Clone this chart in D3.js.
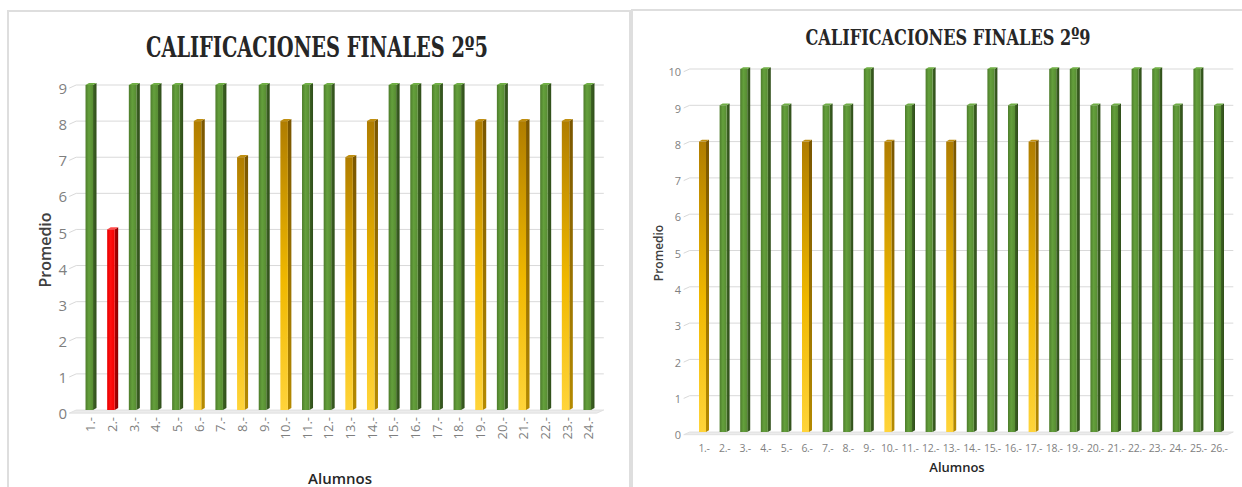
<!DOCTYPE html>
<html>
<head>
<meta charset="utf-8">
<script src="https://cdn.jsdelivr.net/npm/d3@7"></script>
<style>
  html, body { margin: 0; padding: 0; background: #ffffff; }
  svg { display: block; }
</style>
</head>
<body>
<svg id="chart" width="1242" height="487"></svg>
<script>
// ---------- DATA ----------
const title25 = "CALIFICACIONES FINALES 2º5";
const alumnos25 = ["1.-","2.-","3.-","4.-","5.-","6.-","7.-","8.-","9.-","10.-","11.-","12.-",
  "13.-","14.-","15.-","16.-","17.-","18.-","19.-","20.-","21.-","22.-","23.-","24.-"];
const notas25 = [9,5,9,9,9,8,9,7,9,8,9,9,7,8,9,9,9,9,8,9,8,9,8,9];
const ticks25 = [0,1,2,3,4,5,6,7,8,9];

const title29 = "CALIFICACIONES FINALES 2º9";
const alumnos29 = ["1.-","2.-","3.-","4.-","5.-","6.-","7.-","8.-","9.-","10.-","11.-","12.-","13.-",
  "14.-","15.-","16.-","17.-","18.-","19.-","20.-","21.-","22.-","23.-","24.-","25.-","26.-"];
const notas29 = [8,9,10,10,9,8,9,9,10,8,9,10,8,9,10,9,8,10,10,9,9,10,10,9,10,9];
const ticks29 = [0,1,2,3,4,5,6,7,8,9,10];

const yLabel = "Promedio";
const xLabel = "Alumnos";

// ---------- DRAW ----------
const svg = d3.select("#chart");
const defs = svg.append("defs");

function lg(id, vertical, stops) {
  const g = defs.append("linearGradient").attr("id", id)
    .attr("x1", 0).attr("y1", 0)
    .attr("x2", vertical ? 0 : 1).attr("y2", vertical ? 1 : 0);
  stops.forEach(s => g.append("stop").attr("offset", s[0]).attr("stop-color", s[1]));
}
lg("gFront", false, [[0,"#4d7c2b"],[0.45,"#64a03c"],[1,"#578c32"]]);
lg("gSide", false, [[0,"#3e6423"],[1,"#2f4d1a"]]);
lg("yFront", true, [[0,"#b07d00"],[0.55,"#f0b800"],[1,"#ffd43a"]]);
lg("ySide", true, [[0,"#7a5600"],[1,"#b58a00"]]);
lg("rFront", false, [[0,"#e80000"],[0.45,"#ff1010"],[1,"#f50000"]]);
lg("rSide", false, [[0,"#b00000"],[1,"#8a0000"]]);

function palette(v) {
  if (v >= 9) return {front:"url(#gFront)", side:"url(#gSide)", top:"#6fae44"};
  if (v >= 6) return {front:"url(#yFront)", side:"url(#ySide)", top:"#c08f10"};
  return {front:"url(#rFront)", side:"url(#rSide)", top:"#ff4a4a"};
}

const FONT = "'Open Sans', 'Noto Sans', sans-serif";

function drawPanel(cfg) {
  const g = svg.append("g");
  // panel border
  g.append("rect").attr("x", cfg.panel[0]).attr("y", cfg.panel[1])
    .attr("width", cfg.panel[2]).attr("height", cfg.panel[3])
    .attr("fill", "#ffffff").attr("stroke", "#dedede").attr("stroke-width", 2);

  const x = d3.scaleBand().domain(cfg.cats).range(cfg.xRange).padding(0);
  const y = d3.scaleLinear().domain([0, d3.max(cfg.ticks)]).range(cfg.yRange);
  const gx0 = cfg.xRange[0] - cfg.gridPad, gx1 = cfg.xRange[1] + cfg.gridPad;
  const dx = cfg.depth, dy = cfg.depth * 0.6;

  // floor
  g.append("path")
    .attr("d", `M${gx0 - dx*2},${y(0)+dy*1.5} L${gx1 - dx*2},${y(0)+dy*1.5} L${gx1},${y(0)} L${gx0},${y(0)} Z`)
    .attr("fill", "#ececec").attr("stroke", "#dcdcdc").attr("stroke-width", 0.8);

  // gridlines
  g.selectAll(".grid").data(cfg.ticks.filter(t => t > 0)).enter().append("path")
    .attr("d", t => `M${gx0 - dx*2},${y(t)+dy*1.5} L${gx0},${y(t)} L${gx1},${y(t)}`)
    .attr("fill", "none").attr("stroke", "#d9d9d9").attr("stroke-width", 1);

  // y tick labels
  g.selectAll(".yt").data(cfg.ticks).enter().append("text")
    .attr("x", cfg.yLabelX).attr("y", t => y(t) + dy*1.5)
    .attr("text-anchor", "end").attr("dominant-baseline", "central")
    .attr("font-family", FONT).attr("font-size", cfg.tickFont).attr("fill", "#7f7f7f")
    .text(t => t);

  // bars
  const bw = cfg.barW;
  const bars = g.selectAll(".bar").data(cfg.cats.map((c, i) => ({c, v: cfg.vals[i]})))
    .enter().append("g");
  bars.each(function(d) {
    const cx = x(d.c) + x.bandwidth() / 2;
    const pal = palette(d.v);
    const fx = cx - bw / 2, fw = bw - dx;
    const top = y(d.v), bot = y(0);
    const s = d3.select(this);
    s.append("path")
      .attr("d", `M${fx+fw},${top} L${fx+fw+dx},${top-dy} L${fx+fw+dx},${bot-dy} L${fx+fw},${bot} Z`)
      .attr("fill", pal.side);
    s.append("path")
      .attr("d", `M${fx},${top} L${fx+dx},${top-dy} L${fx+fw+dx},${top-dy} L${fx+fw},${top} Z`)
      .attr("fill", pal.top);
    s.append("rect").attr("x", fx).attr("y", top).attr("width", fw).attr("height", bot - top)
      .attr("fill", pal.front);
  });

  // x tick labels
  const xl = g.selectAll(".xt").data(cfg.cats).enter().append("text")
    .attr("font-family", FONT).attr("font-size", cfg.xTickFont).attr("fill", "#7f7f7f")
    .text(c => c);
  if (cfg.rotateX) {
    xl.attr("text-anchor", "end")
      .attr("transform", c => `translate(${x(c) + x.bandwidth()/2 + cfg.xTickFont*0.33},${cfg.xTickY}) rotate(-90)`);
  } else {
    xl.attr("text-anchor", "middle").attr("dominant-baseline", "central")
      .attr("letter-spacing", -0.3)
      .attr("x", c => x(c) + x.bandwidth()/2).attr("y", cfg.xTickY);
  }

  // axis titles
  g.append("text").attr("text-anchor", "middle").attr("dominant-baseline", "central")
    .attr("transform", `translate(${cfg.yTitle[0]},${cfg.yTitle[1]}) rotate(-90)`)
    .attr("font-family", FONT).attr("font-size", cfg.yTitle[2]).attr("font-weight", 600)
    .attr("fill", "#404040").text(yLabel);
  g.append("text").attr("text-anchor", "middle").attr("dominant-baseline", "central")
    .attr("x", cfg.xTitle[0]).attr("y", cfg.xTitle[1])
    .attr("font-family", FONT).attr("font-size", cfg.xTitle[2]).attr("font-weight", 600)
    .attr("fill", "#262626").text(xLabel);

  // chart title
  g.append("text").attr("text-anchor", "middle")
    .attr("x", cfg.title[0]).attr("y", cfg.title[1])
    .attr("font-family", "'DejaVu Serif', 'Liberation Serif', serif").attr("font-weight", "bold")
    .attr("font-size", cfg.title[2]).attr("fill", "#262626")
    .attr("textLength", cfg.title[3]).attr("lengthAdjust", "spacingAndGlyphs")
    .text(cfg.titleText);
}

drawPanel({
  panel: [8, 11, 622, 500],
  cats: alumnos25, vals: notas25, ticks: ticks25, titleText: title25,
  xRange: [80.2, 599.8], yRange: [410, 85], gridPad: 4,
  depth: 3.5, barW: 11,
  yLabelX: 67, tickFont: 15,
  xTickFont: 13, xTickY: 417, rotateX: true,
  yTitle: [45, 250, 16], xTitle: [340, 478, 15],
  title: [317, 57, 28, 342]
});

drawPanel({
  panel: [632, 10, 640, 500],
  cats: alumnos29, vals: notas29, ticks: ticks29, titleText: title29,
  xRange: [693.7, 1229.3], yRange: [432, 69], gridPad: 4,
  depth: 3, barW: 10,
  yLabelX: 681, tickFont: 11,
  xTickFont: 10.5, xTickY: 448, rotateX: false,
  yTitle: [658, 253, 12], xTitle: [957, 467, 13],
  title: [948, 45, 23, 285]
});
</script>
</body>
</html>
